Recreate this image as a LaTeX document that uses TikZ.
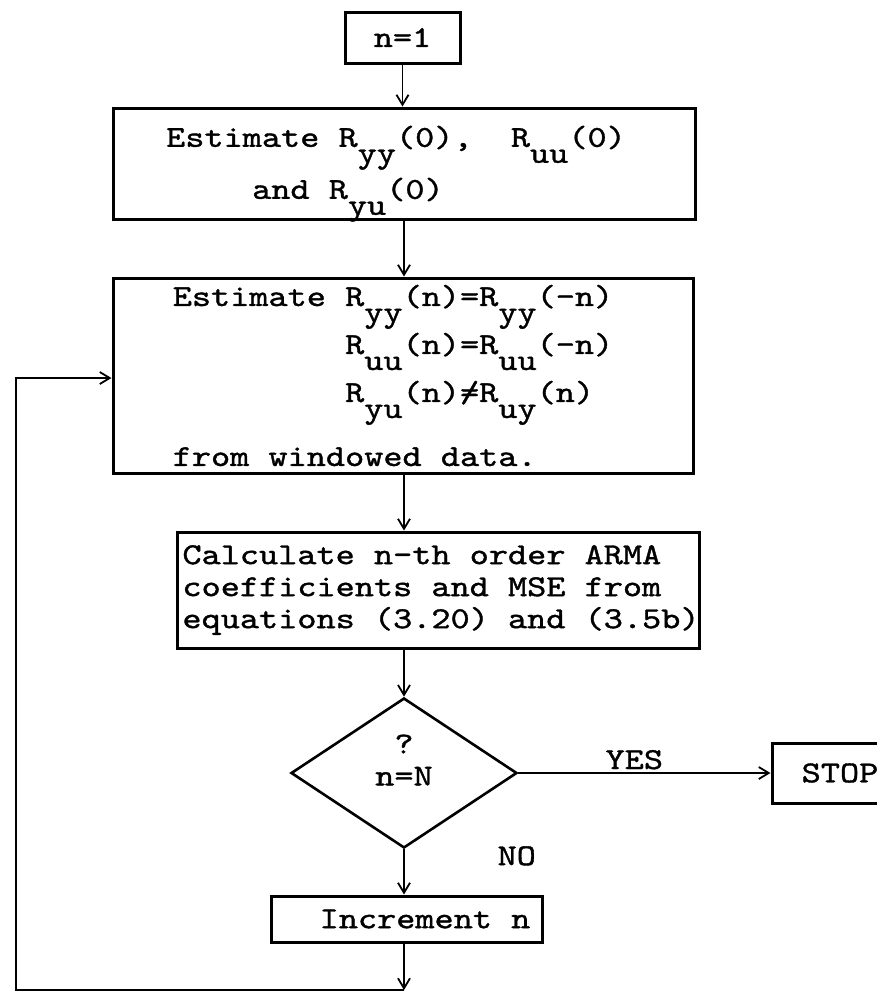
\documentclass[tikz,border=0pt]{standalone}
\usepackage{fontspec}
\newfontfamily\tw{lmmono10-regular.otf}[FakeStretch=1.2,FakeBold=1.2]
\usetikzlibrary{shapes.geometric,arrows.meta}
\newcommand\Sb[1]{\raisebox{-8pt}[0pt][0pt]{#1}}
\newcommand\NE{\rlap{=}/}
\begin{document}
\begin{tikzpicture}[x=0.5pt,y=-0.5pt,
  every node/.style={font=\tw\fontsize{15.2pt}{16pt}\selectfont},
  box/.style={draw,line width=1.5pt,rectangle,inner sep=0pt,align=left},
  dia/.style={draw,line width=1.3pt,diamond,inner sep=0pt,align=center},
  arr/.style={line width=0.9pt,-{Straight Barb[length=5pt,width=6pt]}}]
\useasboundingbox (0,0) rectangle (877,992);
\fill[white] (0,0) rectangle (877,992);

\node[box,minimum width=57.5pt,minimum height=25.5pt] (b1) at (402.5,37.5) {n=1};

\node[box,minimum width=291pt,minimum height=55.5pt] (b2) at (404,163.5)
 {Estimate R\Sb{yy}(0),\ \ R\Sb{uu}(0)\hspace*{8pt}\\[10pt]
  \hspace*{43pt}and R\Sb{yu}(0)};

\node[box,minimum width=290pt,minimum height=97.5pt] (b3) at (403,375.5)
 {Estimate R\Sb{yy}(n)=R\Sb{yy}(-n)\hspace*{10pt}\\[8pt]
  \hphantom{Estimate\ }R\Sb{uu}(n)=R\Sb{uu}(-n)\\[8pt]
  \hphantom{Estimate\ }R\Sb{yu}(n)\NE R\Sb{uy}(n)\\[16pt]
  from windowed data.};

\node[box,minimum width=258.5pt,minimum height=58pt] (b4) at (438.5,590)
 {\hspace*{2.5pt}Calculate n-th order ARMA\\
  \hspace*{2.5pt}coefficients and MSE from\\
  \hspace*{2.5pt}equations (3.20) and (3.5b)};

\node[dia,minimum width=113pt,minimum height=75pt] (d) at (404,773)
 {?\\n=N\rule[-13pt]{0pt}{13pt}};

\node[box,minimum width=80pt,minimum height=30pt] (stop) at (852,773)
 {STOP\hspace*{12pt}};

\node[box,minimum width=135.5pt,minimum height=23pt] (b5) at (406.5,919)
 {\hspace*{18.5pt}Increment n};

\coordinate (c1) at (404,990);
\coordinate (c2) at (16,990);
\coordinate (c3) at (16,378);

\draw[arr] (b1.south) -- (b1.south |- b2.north);
\draw[arr] (b2.south) -- (b2.south |- b3.north);
\draw[arr] (d.north |- b3.south) -- (d.north |- b4.north);
\draw[arr] (d.north |- b4.south) -- (d.north);
\draw[arr] (d.east) -- node[pos=0.46,anchor=base,yshift=2pt] (yes) {YES} (stop.west);
\draw[arr] (d.south) -- node[pos=0.35,anchor=base west,xshift=43pt] (no) {NO} (d.south |- b5.north);
\draw[arr] (b5.south -| c1) -- (c1);
\draw[arr] (c1) -- (c2) -- (c3) -- (c3 -| b3.west);
\end{tikzpicture}
\end{document}
